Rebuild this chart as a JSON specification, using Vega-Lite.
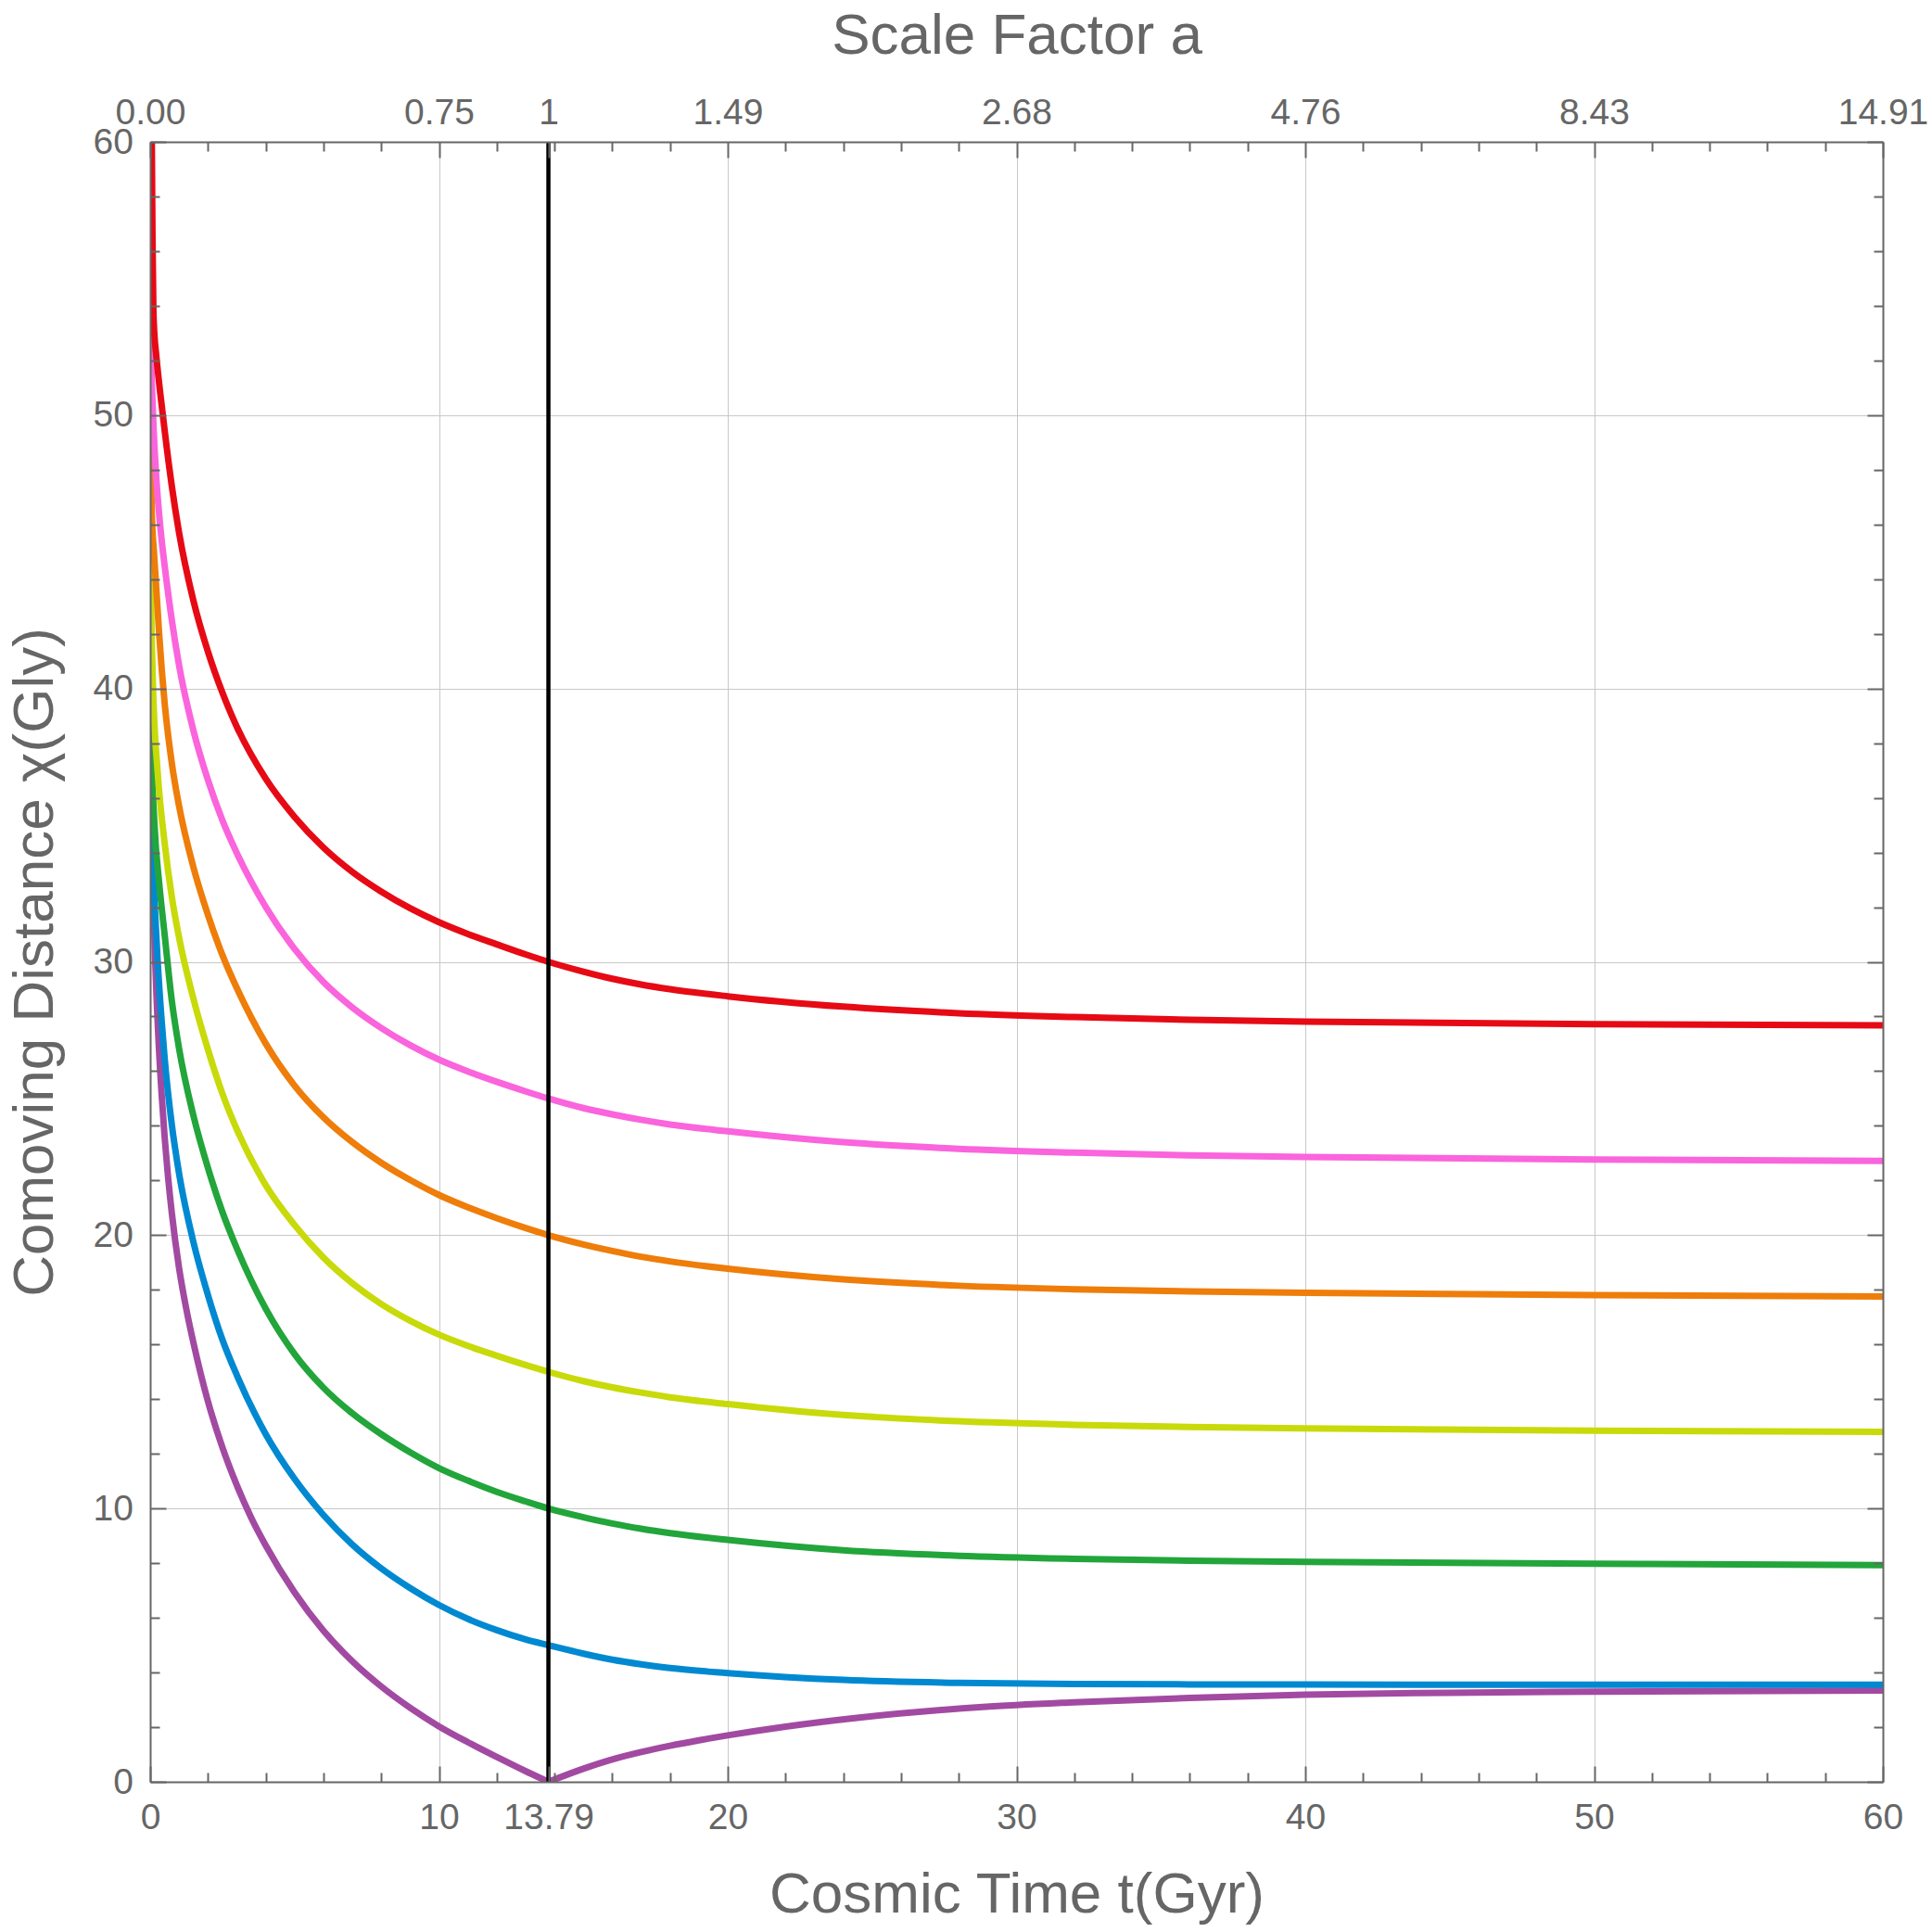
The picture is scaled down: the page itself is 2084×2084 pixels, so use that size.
{
  "$schema": "https://vega.github.io/schema/vega-lite/v6.json",
  "width": 1869,
  "height": 1769,
  "autosize": {"type": "none"},
  "padding": {"left": 162, "top": 153, "right": 53, "bottom": 162},
  "background": "white",
  "data": {
    "values": [
      {"s": "purpleA", "t": 0, "chi": 42},
      {"s": "purpleA", "t": 0.02, "chi": 39},
      {"s": "purpleA", "t": 0.05, "chi": 36},
      {"s": "purpleA", "t": 0.1, "chi": 33},
      {"s": "purpleA", "t": 0.2, "chi": 29.3},
      {"s": "purpleA", "t": 0.3, "chi": 26.9},
      {"s": "purpleA", "t": 0.4, "chi": 25.1},
      {"s": "purpleA", "t": 0.5, "chi": 23.6},
      {"s": "purpleA", "t": 0.6, "chi": 22.35},
      {"s": "purpleA", "t": 0.75, "chi": 20.8},
      {"s": "purpleA", "t": 1, "chi": 18.8},
      {"s": "purpleA", "t": 1.25, "chi": 17.3},
      {"s": "purpleA", "t": 1.5, "chi": 16.05},
      {"s": "purpleA", "t": 1.75, "chi": 14.93},
      {"s": "purpleA", "t": 2, "chi": 13.92},
      {"s": "purpleA", "t": 2.5, "chi": 12.24},
      {"s": "purpleA", "t": 3, "chi": 10.85},
      {"s": "purpleA", "t": 3.5, "chi": 9.66},
      {"s": "purpleA", "t": 4, "chi": 8.65},
      {"s": "purpleA", "t": 5, "chi": 6.93},
      {"s": "purpleA", "t": 6, "chi": 5.53},
      {"s": "purpleA", "t": 7, "chi": 4.41},
      {"s": "purpleA", "t": 8, "chi": 3.49},
      {"s": "purpleA", "t": 9, "chi": 2.71},
      {"s": "purpleA", "t": 10, "chi": 2.03},
      {"s": "purpleA", "t": 11, "chi": 1.45},
      {"s": "purpleA", "t": 12, "chi": 0.91},
      {"s": "purpleA", "t": 13, "chi": 0.39},
      {"s": "purpleA", "t": 13.79, "chi": 0},
      {"s": "purpleB", "t": 13.79, "chi": 0},
      {"s": "purpleB", "t": 15, "chi": 0.48},
      {"s": "purpleB", "t": 16, "chi": 0.82},
      {"s": "purpleB", "t": 17, "chi": 1.09},
      {"s": "purpleB", "t": 18, "chi": 1.32},
      {"s": "purpleB", "t": 19, "chi": 1.52},
      {"s": "purpleB", "t": 20, "chi": 1.7},
      {"s": "purpleB", "t": 22, "chi": 2.02},
      {"s": "purpleB", "t": 24.55, "chi": 2.35},
      {"s": "purpleB", "t": 28.83, "chi": 2.74},
      {"s": "purpleB", "t": 32, "chi": 2.91},
      {"s": "purpleB", "t": 36, "chi": 3.07},
      {"s": "purpleB", "t": 40, "chi": 3.19},
      {"s": "purpleB", "t": 45, "chi": 3.26},
      {"s": "purpleB", "t": 50, "chi": 3.3},
      {"s": "purpleB", "t": 60, "chi": 3.34},

      {"s": "blue", "t": 0, "chi": 37},
      {"s": "blue", "t": 0.06, "chi": 34.5},
      {"s": "blue", "t": 0.16, "chi": 32.0},
      {"s": "blue", "t": 0.26, "chi": 30.0},
      {"s": "blue", "t": 0.4, "chi": 27.8},
      {"s": "blue", "t": 0.5, "chi": 26.48},
      {"s": "blue", "t": 0.75, "chi": 24.03},
      {"s": "blue", "t": 1, "chi": 22.26},
      {"s": "blue", "t": 1.5, "chi": 19.73},
      {"s": "blue", "t": 2, "chi": 17.81},
      {"s": "blue", "t": 2.5, "chi": 16.18},
      {"s": "blue", "t": 3, "chi": 14.88},
      {"s": "blue", "t": 4, "chi": 12.72},
      {"s": "blue", "t": 5, "chi": 11.08},
      {"s": "blue", "t": 6, "chi": 9.76},
      {"s": "blue", "t": 7, "chi": 8.68},
      {"s": "blue", "t": 8, "chi": 7.81},
      {"s": "blue", "t": 9, "chi": 7.09},
      {"s": "blue", "t": 10, "chi": 6.47},
      {"s": "blue", "t": 11, "chi": 5.96},
      {"s": "blue", "t": 12, "chi": 5.55},
      {"s": "blue", "t": 13, "chi": 5.21},
      {"s": "blue", "t": 13.79, "chi": 5.0},
      {"s": "blue", "t": 15, "chi": 4.69},
      {"s": "blue", "t": 16, "chi": 4.47},
      {"s": "blue", "t": 17, "chi": 4.3},
      {"s": "blue", "t": 18, "chi": 4.16},
      {"s": "blue", "t": 20, "chi": 3.98},
      {"s": "blue", "t": 24, "chi": 3.73},
      {"s": "blue", "t": 28, "chi": 3.62},
      {"s": "blue", "t": 32, "chi": 3.58},
      {"s": "blue", "t": 36, "chi": 3.565},
      {"s": "blue", "t": 40, "chi": 3.56},
      {"s": "blue", "t": 50, "chi": 3.55},
      {"s": "blue", "t": 60, "chi": 3.55},

      {"s": "green", "t": 0, "chi": 41},
      {"s": "green", "t": 0.04, "chi": 38.06},
      {"s": "green", "t": 0.15, "chi": 35.0},
      {"s": "green", "t": 0.31, "chi": 32.9},
      {"s": "green", "t": 0.5, "chi": 31.0},
      {"s": "green", "t": 0.75, "chi": 28.57},
      {"s": "green", "t": 1, "chi": 26.83},
      {"s": "green", "t": 1.5, "chi": 24.36},
      {"s": "green", "t": 2, "chi": 22.46},
      {"s": "green", "t": 2.5, "chi": 20.85},
      {"s": "green", "t": 3, "chi": 19.52},
      {"s": "green", "t": 4, "chi": 17.31},
      {"s": "green", "t": 5, "chi": 15.65},
      {"s": "green", "t": 6, "chi": 14.42},
      {"s": "green", "t": 7, "chi": 13.48},
      {"s": "green", "t": 8, "chi": 12.72},
      {"s": "green", "t": 9, "chi": 12.06},
      {"s": "green", "t": 10, "chi": 11.48},
      {"s": "green", "t": 11, "chi": 11.02},
      {"s": "green", "t": 12, "chi": 10.61},
      {"s": "green", "t": 13, "chi": 10.26},
      {"s": "green", "t": 13.79, "chi": 10.0},
      {"s": "green", "t": 15, "chi": 9.68},
      {"s": "green", "t": 16, "chi": 9.45},
      {"s": "green", "t": 17, "chi": 9.26},
      {"s": "green", "t": 18, "chi": 9.1},
      {"s": "green", "t": 20, "chi": 8.85},
      {"s": "green", "t": 24, "chi": 8.47},
      {"s": "green", "t": 28, "chi": 8.27},
      {"s": "green", "t": 32, "chi": 8.16},
      {"s": "green", "t": 36, "chi": 8.09},
      {"s": "green", "t": 40, "chi": 8.05},
      {"s": "green", "t": 50, "chi": 7.98},
      {"s": "green", "t": 60, "chi": 7.93},

      {"s": "yellow", "t": 0, "chi": 46},
      {"s": "yellow", "t": 0.04, "chi": 42.6},
      {"s": "yellow", "t": 0.1, "chi": 40.0},
      {"s": "yellow", "t": 0.26, "chi": 36.93},
      {"s": "yellow", "t": 0.5, "chi": 34.35},
      {"s": "yellow", "t": 0.75, "chi": 32.37},
      {"s": "yellow", "t": 1, "chi": 30.89},
      {"s": "yellow", "t": 1.5, "chi": 28.64},
      {"s": "yellow", "t": 2, "chi": 26.79},
      {"s": "yellow", "t": 2.5, "chi": 25.18},
      {"s": "yellow", "t": 3, "chi": 23.87},
      {"s": "yellow", "t": 4, "chi": 21.83},
      {"s": "yellow", "t": 5, "chi": 20.37},
      {"s": "yellow", "t": 6, "chi": 19.18},
      {"s": "yellow", "t": 7, "chi": 18.24},
      {"s": "yellow", "t": 8, "chi": 17.48},
      {"s": "yellow", "t": 9, "chi": 16.87},
      {"s": "yellow", "t": 10, "chi": 16.36},
      {"s": "yellow", "t": 11, "chi": 15.95},
      {"s": "yellow", "t": 12, "chi": 15.59},
      {"s": "yellow", "t": 13, "chi": 15.25},
      {"s": "yellow", "t": 13.79, "chi": 15.0},
      {"s": "yellow", "t": 15, "chi": 14.66},
      {"s": "yellow", "t": 16, "chi": 14.43},
      {"s": "yellow", "t": 17, "chi": 14.24},
      {"s": "yellow", "t": 18, "chi": 14.07},
      {"s": "yellow", "t": 20, "chi": 13.82},
      {"s": "yellow", "t": 24, "chi": 13.42},
      {"s": "yellow", "t": 28, "chi": 13.19},
      {"s": "yellow", "t": 32, "chi": 13.06},
      {"s": "yellow", "t": 36, "chi": 12.98},
      {"s": "yellow", "t": 40, "chi": 12.93},
      {"s": "yellow", "t": 50, "chi": 12.85},
      {"s": "yellow", "t": 60, "chi": 12.8},

      {"s": "orange", "t": 0, "chi": 50.5},
      {"s": "orange", "t": 0.05, "chi": 46.6},
      {"s": "orange", "t": 0.14, "chi": 44.84},
      {"s": "orange", "t": 0.31, "chi": 42.02},
      {"s": "orange", "t": 0.4, "chi": 40.7},
      {"s": "orange", "t": 0.5, "chi": 39.47},
      {"s": "orange", "t": 0.75, "chi": 37.26},
      {"s": "orange", "t": 1, "chi": 35.7},
      {"s": "orange", "t": 1.5, "chi": 33.45},
      {"s": "orange", "t": 2, "chi": 31.72},
      {"s": "orange", "t": 2.5, "chi": 30.25},
      {"s": "orange", "t": 3, "chi": 29.04},
      {"s": "orange", "t": 4, "chi": 27.01},
      {"s": "orange", "t": 5, "chi": 25.47},
      {"s": "orange", "t": 6, "chi": 24.31},
      {"s": "orange", "t": 7, "chi": 23.4},
      {"s": "orange", "t": 8, "chi": 22.65},
      {"s": "orange", "t": 9, "chi": 22.02},
      {"s": "orange", "t": 10, "chi": 21.47},
      {"s": "orange", "t": 11, "chi": 21.02},
      {"s": "orange", "t": 12, "chi": 20.62},
      {"s": "orange", "t": 13, "chi": 20.26},
      {"s": "orange", "t": 13.79, "chi": 20.0},
      {"s": "orange", "t": 15, "chi": 19.66},
      {"s": "orange", "t": 16, "chi": 19.42},
      {"s": "orange", "t": 17, "chi": 19.21},
      {"s": "orange", "t": 18, "chi": 19.04},
      {"s": "orange", "t": 20, "chi": 18.77},
      {"s": "orange", "t": 24, "chi": 18.38},
      {"s": "orange", "t": 28, "chi": 18.15},
      {"s": "orange", "t": 32, "chi": 18.02},
      {"s": "orange", "t": 36, "chi": 17.94},
      {"s": "orange", "t": 40, "chi": 17.89},
      {"s": "orange", "t": 50, "chi": 17.81},
      {"s": "orange", "t": 60, "chi": 17.76},

      {"s": "pink", "t": 0, "chi": 56},
      {"s": "pink", "t": 0.03, "chi": 52.5},
      {"s": "pink", "t": 0.1, "chi": 50.0},
      {"s": "pink", "t": 0.2, "chi": 47.9},
      {"s": "pink", "t": 0.3, "chi": 46.5},
      {"s": "pink", "t": 0.4, "chi": 45.4},
      {"s": "pink", "t": 0.5, "chi": 44.5},
      {"s": "pink", "t": 0.75, "chi": 42.5},
      {"s": "pink", "t": 1, "chi": 40.85},
      {"s": "pink", "t": 1.5, "chi": 38.45},
      {"s": "pink", "t": 2, "chi": 36.65},
      {"s": "pink", "t": 2.5, "chi": 35.18},
      {"s": "pink", "t": 3, "chi": 33.98},
      {"s": "pink", "t": 4, "chi": 32.01},
      {"s": "pink", "t": 5, "chi": 30.47},
      {"s": "pink", "t": 6, "chi": 29.26},
      {"s": "pink", "t": 7, "chi": 28.33},
      {"s": "pink", "t": 8, "chi": 27.58},
      {"s": "pink", "t": 9, "chi": 26.95},
      {"s": "pink", "t": 10, "chi": 26.42},
      {"s": "pink", "t": 11, "chi": 25.99},
      {"s": "pink", "t": 12, "chi": 25.61},
      {"s": "pink", "t": 13, "chi": 25.26},
      {"s": "pink", "t": 13.79, "chi": 25.0},
      {"s": "pink", "t": 15, "chi": 24.65},
      {"s": "pink", "t": 16, "chi": 24.42},
      {"s": "pink", "t": 17, "chi": 24.22},
      {"s": "pink", "t": 18, "chi": 24.05},
      {"s": "pink", "t": 20, "chi": 23.8},
      {"s": "pink", "t": 24, "chi": 23.4},
      {"s": "pink", "t": 28, "chi": 23.16},
      {"s": "pink", "t": 32, "chi": 23.02},
      {"s": "pink", "t": 36, "chi": 22.92},
      {"s": "pink", "t": 40, "chi": 22.86},
      {"s": "pink", "t": 50, "chi": 22.77},
      {"s": "pink", "t": 60, "chi": 22.72},

      {"s": "red", "t": 0.045, "chi": 62},
      {"s": "red", "t": 0.06, "chi": 59.5},
      {"s": "red", "t": 0.08, "chi": 56.5},
      {"s": "red", "t": 0.11, "chi": 53.9},
      {"s": "red", "t": 0.15, "chi": 52.9},
      {"s": "red", "t": 0.2, "chi": 52.3},
      {"s": "red", "t": 0.45, "chi": 49.9},
      {"s": "red", "t": 0.75, "chi": 47.4},
      {"s": "red", "t": 1, "chi": 45.7},
      {"s": "red", "t": 1.5, "chi": 43.2},
      {"s": "red", "t": 2, "chi": 41.35},
      {"s": "red", "t": 2.5, "chi": 39.85},
      {"s": "red", "t": 3, "chi": 38.6},
      {"s": "red", "t": 4, "chi": 36.7},
      {"s": "red", "t": 5, "chi": 35.3},
      {"s": "red", "t": 6, "chi": 34.18},
      {"s": "red", "t": 7, "chi": 33.29},
      {"s": "red", "t": 8, "chi": 32.57},
      {"s": "red", "t": 9, "chi": 31.96},
      {"s": "red", "t": 10, "chi": 31.45},
      {"s": "red", "t": 11, "chi": 31.02},
      {"s": "red", "t": 12, "chi": 30.64},
      {"s": "red", "t": 13, "chi": 30.27},
      {"s": "red", "t": 13.79, "chi": 30.0},
      {"s": "red", "t": 15, "chi": 29.64},
      {"s": "red", "t": 16, "chi": 29.38},
      {"s": "red", "t": 17, "chi": 29.17},
      {"s": "red", "t": 18, "chi": 29.0},
      {"s": "red", "t": 20, "chi": 28.74},
      {"s": "red", "t": 24, "chi": 28.36},
      {"s": "red", "t": 28, "chi": 28.12},
      {"s": "red", "t": 32, "chi": 27.98},
      {"s": "red", "t": 36, "chi": 27.88},
      {"s": "red", "t": 40, "chi": 27.81},
      {"s": "red", "t": 50, "chi": 27.72},
      {"s": "red", "t": 60, "chi": 27.68}
    ]
  },
  "resolve": {"axis": {"x": "independent", "y": "independent"}},
  "layer": [
    {
      "transform": [{"filter": "datum.s == 'purpleA' || datum.s == 'purpleB'"}],
      "mark": {"type": "line", "color": "#A24AA2", "strokeWidth": 7, "strokeCap": "round", "strokeJoin": "round", "interpolate": "monotone", "clip": true},
      "encoding": {
        "x": {"field": "t", "type": "quantitative", "scale": {"domain": [0, 60], "nice": false, "zero": false},
          "axis": {"orient": "bottom", "values": [10, 20, 30, 40, 50], "grid": true, "ticks": false, "labels": false, "domain": false, "title": null, "zindex": 0}},
        "y": {"field": "chi", "type": "quantitative", "scale": {"domain": [0, 60], "nice": false, "zero": false},
          "axis": {"orient": "left", "values": [10, 20, 30, 40, 50], "grid": true, "ticks": false, "labels": false, "domain": false, "title": null, "zindex": 0}},
        "detail": {"field": "s"}
      }
    },
    {
      "transform": [{"filter": "datum.s == 'blue'"}],
      "mark": {"type": "line", "color": "#0089D1", "strokeWidth": 7, "strokeCap": "round", "interpolate": "monotone", "clip": true},
      "encoding": {
        "x": {"field": "t", "type": "quantitative", "scale": {"domain": [0, 60], "nice": false, "zero": false},
          "axis": {"orient": "bottom", "values": [0, 10, 13.79, 20, 30, 40, 50, 60], "tickSize": -17, "labelPadding": 67, "labelBaseline": "alphabetic", "labelExpr": "'' + datum.value", "title": "Cosmic Time t(Gyr)", "titleX": 934.5, "titleY": 140, "titleBaseline": "alphabetic", "zindex": 1}},
        "y": {"field": "chi", "type": "quantitative", "scale": {"domain": [0, 60], "nice": false, "zero": false},
          "axis": {"orient": "left", "values": [0, 10, 20, 30, 40, 50, 60], "tickSize": -17, "labelPadding": 35.5, "labelBaseline": "middle", "labelAlign": "right", "labelExpr": "'' + datum.value", "title": "Comoving Distance χ(Gly)", "titleX": -125, "titleY": 884.5, "titleAngle": -90, "titleAlign": "center", "titleBaseline": "middle", "zindex": 1}}
      }
    },
    {
      "transform": [{"filter": "datum.s == 'green'"}],
      "mark": {"type": "line", "color": "#22A53A", "strokeWidth": 7, "strokeCap": "round", "interpolate": "monotone", "clip": true},
      "encoding": {
        "x": {"field": "t", "type": "quantitative", "scale": {"domain": [0, 60], "nice": false, "zero": false},
          "axis": {"orient": "bottom", "values": [2, 4, 6, 8, 12, 14, 16, 18, 22, 24, 26, 28, 32, 34, 36, 38, 42, 44, 46, 48, 52, 54, 56, 58], "tickSize": -10, "labels": false, "domain": false, "title": null, "zindex": 1}},
        "y": {"field": "chi", "type": "quantitative", "scale": {"domain": [0, 60], "nice": false, "zero": false},
          "axis": {"orient": "left", "values": [2, 4, 6, 8, 12, 14, 16, 18, 22, 24, 26, 28, 32, 34, 36, 38, 42, 44, 46, 48, 52, 54, 56, 58], "tickSize": -10, "labels": false, "domain": false, "title": null, "zindex": 1}}
      }
    },
    {
      "transform": [{"filter": "datum.s == 'yellow'"}],
      "mark": {"type": "line", "color": "#C8DA0A", "strokeWidth": 7, "strokeCap": "round", "interpolate": "monotone", "clip": true},
      "encoding": {
        "x": {"field": "t", "type": "quantitative", "scale": {"domain": [0, 60], "nice": false, "zero": false},
          "axis": {"orient": "top", "values": [0, 10, 13.79, 20, 30, 40, 50, 60], "tickSize": -17, "labelPadding": 37, "labelBaseline": "alphabetic",
            "labelExpr": "datum.value == 0 ? '0.00' : datum.value == 10 ? '0.75' : datum.value == 13.79 ? '1' : datum.value == 20 ? '1.49' : datum.value == 30 ? '2.68' : datum.value == 40 ? '4.76' : datum.value == 50 ? '8.43' : '14.91'",
            "title": "Scale Factor a", "titleX": 934.5, "titleY": -96, "titleBaseline": "alphabetic", "zindex": 1}},
        "y": {"field": "chi", "type": "quantitative", "scale": {"domain": [0, 60], "nice": false, "zero": false},
          "axis": {"orient": "right", "values": [0, 10, 20, 30, 40, 50, 60], "tickSize": -17, "labels": false, "title": null, "zindex": 1}}
      }
    },
    {
      "transform": [{"filter": "datum.s == 'orange'"}],
      "mark": {"type": "line", "color": "#EE7D0A", "strokeWidth": 7, "strokeCap": "round", "interpolate": "monotone", "clip": true},
      "encoding": {
        "x": {"field": "t", "type": "quantitative", "scale": {"domain": [0, 60], "nice": false, "zero": false},
          "axis": {"orient": "top", "values": [2, 4, 6, 8, 12, 14, 16, 18, 22, 24, 26, 28, 32, 34, 36, 38, 42, 44, 46, 48, 52, 54, 56, 58], "tickSize": -10, "labels": false, "domain": false, "title": null, "zindex": 1}},
        "y": {"field": "chi", "type": "quantitative", "scale": {"domain": [0, 60], "nice": false, "zero": false},
          "axis": {"orient": "right", "values": [2, 4, 6, 8, 12, 14, 16, 18, 22, 24, 26, 28, 32, 34, 36, 38, 42, 44, 46, 48, 52, 54, 56, 58], "tickSize": -10, "labels": false, "domain": false, "title": null, "zindex": 1}}
      }
    },
    {
      "transform": [{"filter": "datum.s == 'pink'"}],
      "mark": {"type": "line", "color": "#FA64DC", "strokeWidth": 7, "strokeCap": "round", "interpolate": "monotone", "clip": true},
      "encoding": {
        "x": {"field": "t", "type": "quantitative", "scale": {"domain": [0, 60], "nice": false, "zero": false}, "axis": null},
        "y": {"field": "chi", "type": "quantitative", "scale": {"domain": [0, 60], "nice": false, "zero": false}, "axis": null}
      }
    },
    {
      "transform": [{"filter": "datum.s == 'red'"}],
      "mark": {"type": "line", "color": "#E60A14", "strokeWidth": 7, "strokeCap": "round", "interpolate": "monotone", "clip": true},
      "encoding": {
        "x": {"field": "t", "type": "quantitative", "scale": {"domain": [0, 60], "nice": false, "zero": false}, "axis": null},
        "y": {"field": "chi", "type": "quantitative", "scale": {"domain": [0, 60], "nice": false, "zero": false}, "axis": null}
      }
    },
    {
      "data": {"values": [{"t": 13.79, "lo": 0, "hi": 60}]},
      "mark": {"type": "rule", "color": "black", "strokeWidth": 4.5},
      "encoding": {
        "x": {"field": "t", "type": "quantitative", "axis": null},
        "y": {"field": "lo", "type": "quantitative", "axis": null},
        "y2": {"field": "hi"}
      }
    }
  ],
  "config": {
    "view": {"stroke": null},
    "font": "Liberation Sans",
    "axis": {
      "labelFont": "Liberation Sans",
      "labelFontSize": 39,
      "labelColor": "#666666",
      "labelFlush": false,
      "labelOverlap": false,
      "titleFont": "Liberation Sans",
      "titleFontSize": 62,
      "titleFontWeight": "normal",
      "titleColor": "#666666",
      "domainColor": "#666666",
      "domainWidth": 2,
      "tickColor": "#666666",
      "tickWidth": 2,
      "gridColor": "#c8c8c8",
      "gridWidth": 1,
      "grid": false
    }
  }
}
